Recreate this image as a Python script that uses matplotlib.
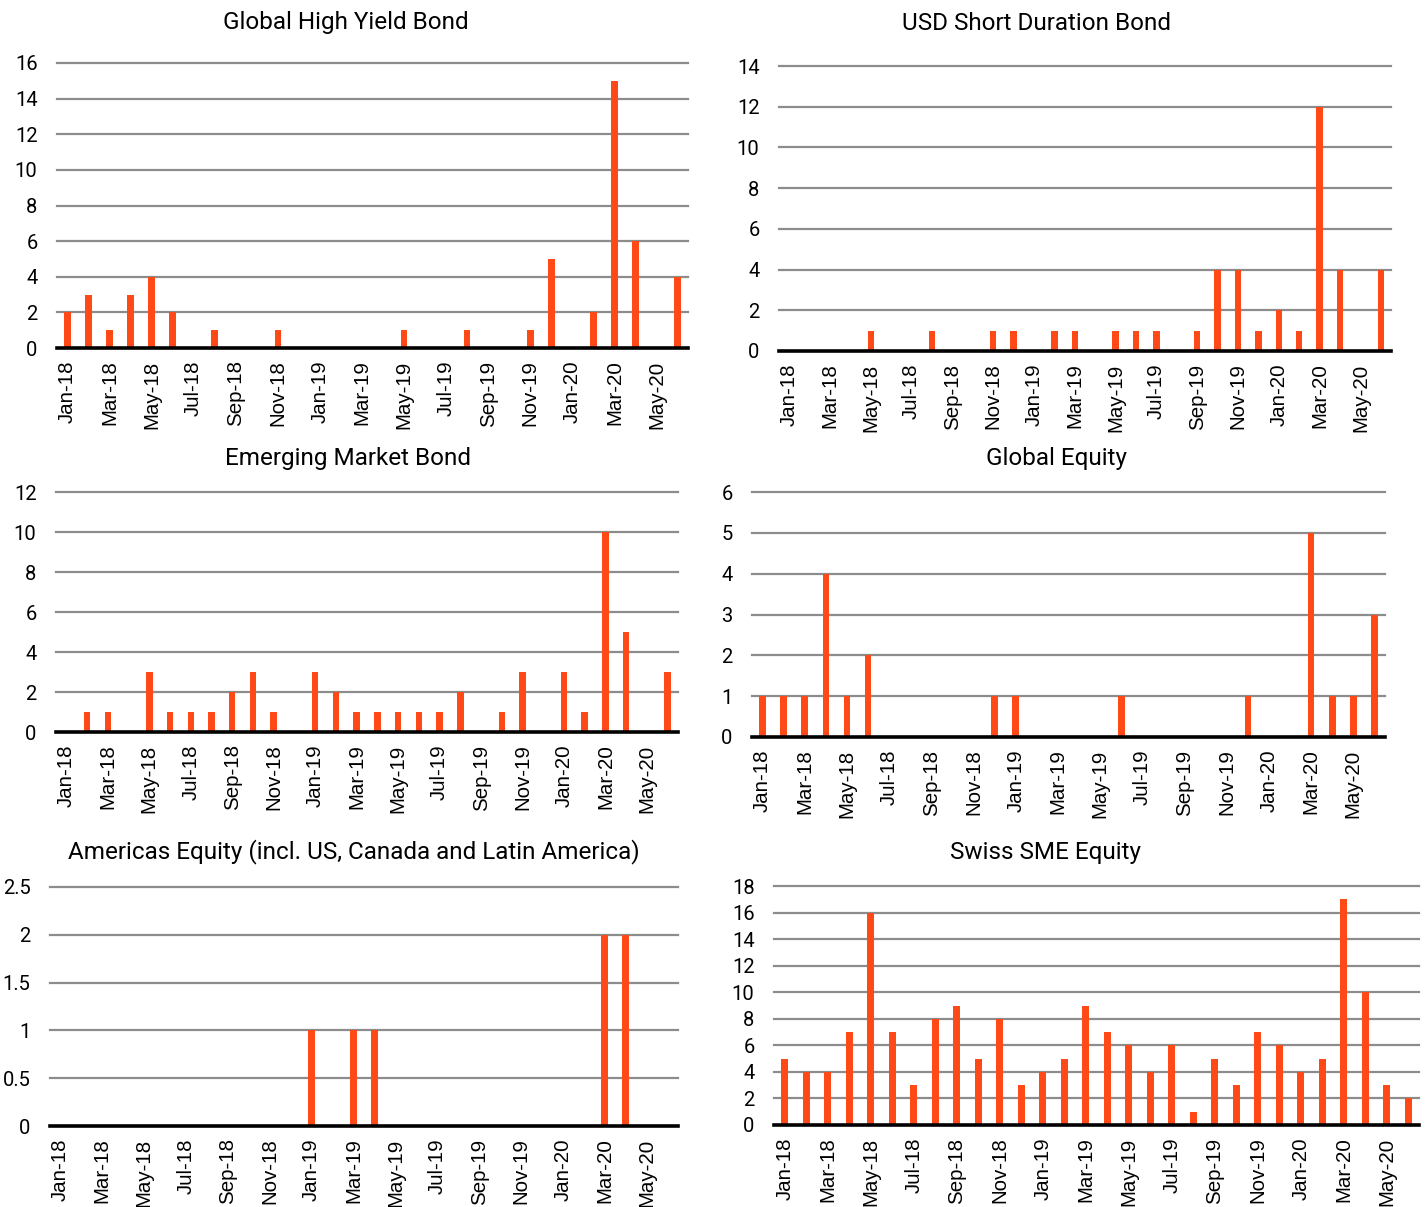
import pandas as pd
import matplotlib
matplotlib.use('Agg')
import matplotlib.pyplot as plt

# monthly counts, Jan-18 .. Jun-20
months = pd.date_range('2018-01-01', '2020-06-01', freq='MS').strftime('%b-%y').tolist()

high_yield = [2, 3, 1, 3, 4, 2, 0, 1, 0, 0, 1, 0,
              0, 0, 0, 0, 1, 0, 0, 1, 0, 0, 1, 5,
              0, 2, 15, 6, 0, 4]
usd_short = [0, 0, 0, 0, 1, 0, 0, 1, 0, 0, 1, 1,
             0, 1, 1, 0, 1, 1, 1, 0, 1, 4, 4, 1,
             2, 1, 12, 4, 0, 4]
em_bond = [0, 1, 1, 0, 3, 1, 1, 1, 2, 3, 1, 0,
           3, 2, 1, 1, 1, 1, 1, 2, 0, 1, 3, 0,
           3, 1, 10, 5, 0, 3]
global_equity = [1, 1, 1, 4, 1, 2, 0, 0, 0, 0, 0, 1,
                 1, 0, 0, 0, 0, 1, 0, 0, 0, 0, 0, 1,
                 0, 0, 5, 1, 1, 3]
americas_equity = [0, 0, 0, 0, 0, 0, 0, 0, 0, 0, 0, 0,
                   1, 0, 1, 1, 0, 0, 0, 0, 0, 0, 0, 0,
                   0, 0, 2, 2, 0, 0]
swiss_sme = [5, 4, 4, 7, 16, 7, 3, 8, 9, 5, 8, 3,
             4, 5, 9, 7, 6, 4, 6, 1, 5, 3, 7, 6,
             4, 5, 17, 10, 3, 2]

titles = ['Global High Yield Bond', 'USD Short Duration Bond',
          'Emerging Market Bond', 'Global Equity',
          'Americas Equity (incl. US, Canada and Latin America)', 'Swiss SME Equity']
series = [high_yield, usd_short, em_bond, global_equity, americas_equity, swiss_sme]
yticks = [list(range(0, 17, 2)), list(range(0, 15, 2)), list(range(0, 13, 2)),
          list(range(0, 7)), [0, 0.5, 1, 1.5, 2, 2.5], list(range(0, 19, 2))]

# pixel boxes: left, right, top, bottom, title centre x, title y
boxes = [(57, 688, 63, 348, 346, 23),
         (779, 1391, 66, 351, 1037, 23),
         (56, 678, 492, 732, 348, 459),
         (752, 1385, 492, 737, 1056, 459),
         (50, 678, 887, 1126, 354, 852),
         (774, 1419, 886, 1125, 1045, 852)]

W, H = 1427, 1207
orange = '#ff4a17'
grid_col = '#8c8c8c'

fig = plt.figure(figsize=(W / 100, H / 100), dpi=100)

for title, vals, yt, (l, r, t, b, tx, ty) in zip(titles, series, yticks, boxes):
    ax = fig.add_axes([l / W, 1 - b / H, (r - l) / W, (b - t) / H])
    ax.bar(range(len(vals)), vals, width=0.31, color=orange, zorder=2)
    for y in yt[1:]:
        ax.axhline(y, color=grid_col, lw=1.6, zorder=0, clip_on=False)
    ax.set_xlim(-0.5, len(months) - 0.5)
    ax.set_ylim(0, yt[-1])
    ax.set_yticks(yt)
    ax.set_yticklabels([f'{v:g}' for v in yt], family='Roboto', fontsize=14.5)
    ax.set_xticks(range(0, len(months), 2))
    ax.set_xticklabels(months[::2], rotation=90, family='Liberation Sans', fontsize=14.8)
    ax.tick_params(length=0)
    ax.tick_params(axis='y', pad=14)
    ax.tick_params(axis='x', pad=9)
    for s in ['top', 'right', 'left']:
        ax.spines[s].set_visible(False)
    ax.spines['bottom'].set_color('black')
    ax.spines['bottom'].set_linewidth(2.6)
    fig.text(tx / W, 1 - ty / H, title, ha='center', va='center',
             family='Roboto', fontsize=17.5)

plt.savefig('out.png', dpi=100)
